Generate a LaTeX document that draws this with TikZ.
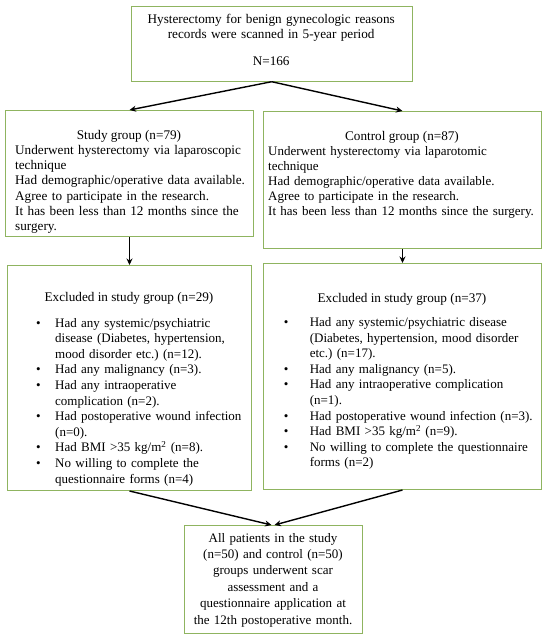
\documentclass[tikz,border=0pt]{standalone}
\usepackage{fontspec}
\setmainfont{Liberation Serif}
\usetikzlibrary{arrows.meta}
\definecolor{boxgreen}{RGB}{143,180,96}
\newlength\bulind
\newcommand\bfirst[1]{\noindent\hangindent=\bulind\hangafter=1\makebox[\bulind][l]{\textbullet}#1}
\newcommand\bitem[1]{\par\noindent\hangindent=\bulind\hangafter=1\makebox[\bulind][l]{\textbullet}#1}
\begin{document}
\begin{tikzpicture}[x=1pt,y=-1pt,
 box/.style={draw=boxgreen,line width=1pt,inner sep=0pt,anchor=north west},
 txt/.style={inner sep=0pt,font=\fontsize{13.2}{15}\selectfont},
 bul/.style={inner sep=0pt,anchor=base west,text width=300pt,align=left,font=\fontsize{13}{15.6}\selectfont},
 arr/.style={-{Stealth[length=6.5pt,width=6pt]},line width=1.4pt}]
\useasboundingbox (0,0) rectangle (550,639);

% boxes
\node[box,minimum width=281pt,minimum height=74.7pt] (top) at (130.7,6) {};
\node[box,minimum width=248pt,minimum height=126pt] (study) at (5,110) {};
\node[box,minimum width=278pt,minimum height=137pt] (control) at (263,111) {};
\node[box,minimum width=244pt,minimum height=225pt] (exclL) at (7,265) {};
\node[box,minimum width=278pt,minimum height=226pt] (exclR) at (263,263) {};
\node[box,minimum width=178pt,minimum height=108pt] (final) at (184,525) {};

% texts
\node[txt,anchor=base,text width=280pt,align=center] (toptxt) at (271.2,24)
  {Hysterectomy for benign gynecologic reasons\\records were scanned in 5-year period\\[12pt]N=166};

\node[txt,anchor=base] (sttitle) at (129,140) {Study group (n=79)};
\node[txt,anchor=base west,text width=250pt,align=left] (stbody) at (15,155)
  {Underwent hysterectomy via laparoscopic\\technique\\Had demographic/operative data available.\\Agree to participate in the research.\\It has been less than 12 months since the\\surgery.};

\node[txt,anchor=base] (cttitle) at (402,141) {Control group (n=87)};
\node[txt,anchor=base west,text width=300pt,align=left,font=\fontsize{13}{15}\selectfont] (ctbody) at (268,156)
  {Underwent hysterectomy via laparotomic\\technique\\Had demographic/operative data available.\\Agree to participate in the research.\\It has been less than 12 months since the surgery.};

\node[txt,anchor=base] (eltitle) at (129,301) {Excluded in study group (n=29)};
\node[bul] (elbody) at (36,327) {\setlength\bulind{19pt}%
  \bfirst{Had any systemic/psychiatric\newline disease (Diabetes, hypertension,\newline mood disorder etc.)\ (n=12).}
  \bitem{Had any malignancy (n=3).}
  \bitem{Had any intraoperative\newline complication (n=2).}
  \bitem{Had postoperative wound infection\newline (n=0).}
  \bitem{Had BMI >35 kg/m\textsuperscript{2} (n=8).}
  \bitem{No willing to complete the\newline questionnaire forms (n=4)}\par};

\node[txt,anchor=base] (ertitle) at (402,302) {Excluded in study group (n=37)};
\node[bul] (erbody) at (283.6,326.5) {\setlength\bulind{26pt}%
  \bfirst{Had any systemic/psychiatric disease\newline (Diabetes, hypertension, mood disorder\newline etc.)\ (n=17).}
  \bitem{Had any malignancy (n=5).}
  \bitem{Had any intraoperative complication\newline (n=1).}
  \bitem{Had postoperative wound infection (n=3).}
  \bitem{Had BMI >35 kg/m\textsuperscript{2} (n=9).}
  \bitem{No willing to complete the questionnaire\newline forms (n=2)}\par};

\node[txt,anchor=base,text width=200pt,align=center,font=\fontsize{13}{16.4}\selectfont] (fintxt) at (273,542)
  {All patients in the study\\(n=50) and control (n=50)\\groups underwent scar\\assessment and a\\questionnaire application at\\the 12th postoperative month.};

% arrows
\draw[arr] (top.south) -- (study.north);
\draw[arr] (top.south) -- (control.north);
\draw[arr] (study.south) -- (exclL.north);
\draw[arr] (control.south) -- (exclR.north);
\draw[arr] (exclL.south) -- ([xshift=-2pt]final.north);
\draw[arr] (exclR.south) -- ([xshift=1pt]final.north);
\end{tikzpicture}
\end{document}
